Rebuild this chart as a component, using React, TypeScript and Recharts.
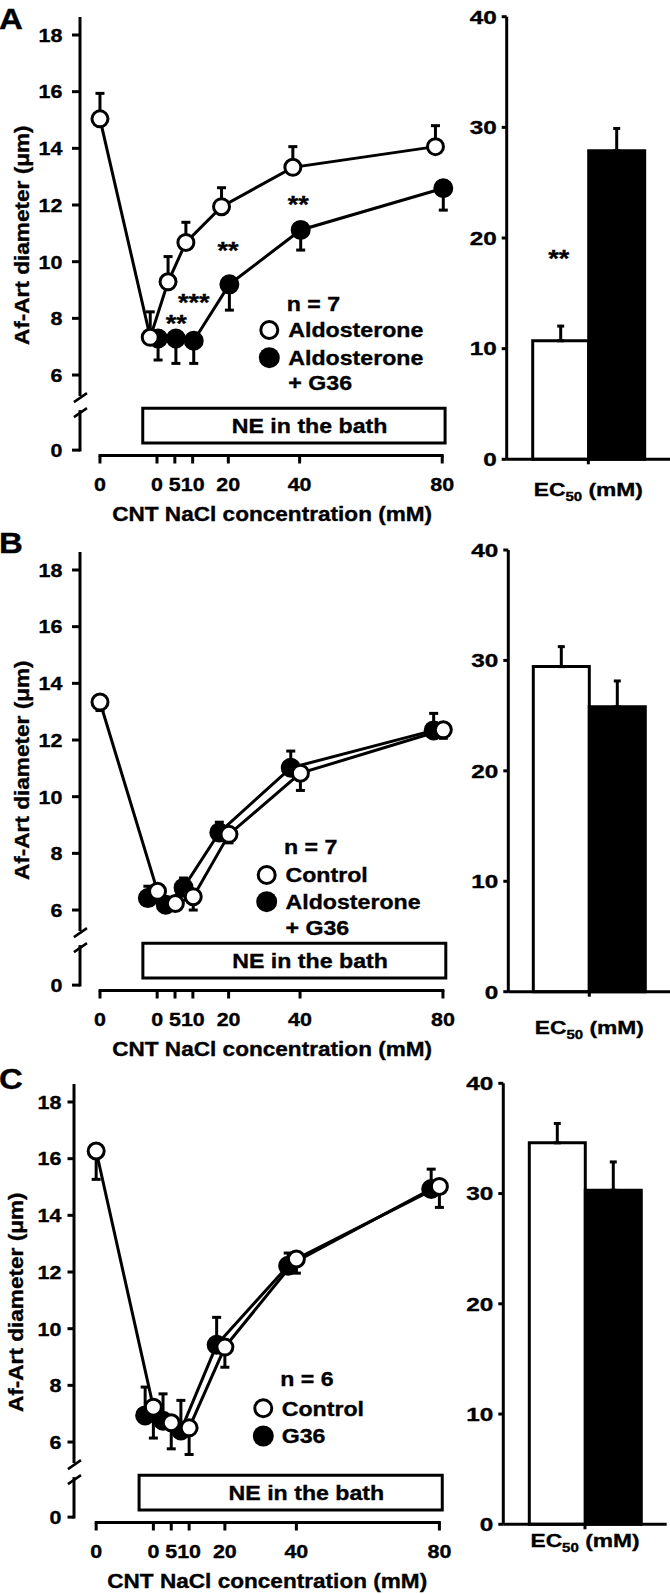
import React from 'react';
import {
  ComposedChart, Line, Scatter, XAxis, YAxis, ErrorBar, ReferenceLine, ReferenceArea,
  Legend, BarChart, Bar, LabelList, Label,
} from 'recharts';

const FONT = '"Liberation Sans", Arial, Helvetica, sans-serif';
const INK = '#000';
const SX_LINE = 1.13;
const SX_BAR = 1.28;
const TEXT_STROKE = 0.35;

// ---------- shared categories / ticks ----------
const CONC = [0, 5, 10, 20, 40, 80];
const CTRL_X = -16; // baseline before NE (labelled "0")
const X_TICKS = [CTRL_X, 0, 5, 10, 20, 40, 80];
const X_MAX = 80;
const Y_ZERO = 3.35; // broken axis: position of the "0" tick
const Y_TICKS = [Y_ZERO, 6, 8, 10, 12, 14, 16, 18];
const Y_TOP = 18.635;
const Y_BOTTOM = 3.16;
const Y_BREAK_UPPER = 5.256;
const Y_BREAK_LOWER = 4.762;
const BREAK_MARKS = [[5.044, 5.362], [4.515, 4.832]];
const NE_BOX_X = [-4, 80.8];
const NE_BOX_Y = [3.597, 4.83];
const NE_LABEL_X = 42.8;
const NE_LABEL = 'NE in the bath';
const BAR_TICKS = [0, 10, 20, 30, 40];
const BAR_CATEGORY = 'EC50';
const X_TITLE = 'CNT NaCl concentration (mM)';
const Y_TITLE = 'Af-Art diameter (\u03bcm)';

// ---------- Panel A ----------
const A_N = 'n = 7';
const A_OPEN_LABEL = 'Aldosterone';
const A_FILLED_LABEL = 'Aldosterone';
const A_FILLED_SUB = '+ G36';
const A_OPEN_CTRL = [15.04, 0.9];
const A_OPEN = [7.33, 9.29, 10.68, 11.94, 13.33, 14.06];
const A_OPEN_SEM = [0.9, 0.89, 0.71, 0.67, 0.73, 0.74];
const A_FILLED = [7.29, 7.29, 7.21, 9.2, 11.12, 12.59];
const A_FILLED_SEM = [0.76, 0.88, 0.8, 0.91, 0.71, 0.77];
const A_STAR_TEXT = ['**', '***', '**', '**'];
const A_STAR_X = [5.4, 10.3, 19.9, 39.6];
const A_STAR_Y = [8.0, 8.76, 10.59, 12.21];
const A_EC50 = [10.71, 27.88];
const A_EC50_SEM = [1.33, 2.02];
const A_EC50_STAR = '**';
const A_EC50_STAR_Y = 18.6;

// ---------- Panel B ----------
const B_N = 'n = 7';
const B_OPEN_LABEL = 'Control';
const B_FILLED_LABEL = 'Aldosterone';
const B_FILLED_SUB = '+ G36';
const B_OPEN_CTRL = [13.34, 0.3];
const B_OPEN = [6.66, 6.23, 6.47, 8.67, 10.83, 12.36];
const B_OPEN_SEM = [0.25, 0.25, 0.47, 0.3, 0.61, 0.3];
const B_FILLED = [6.42, 6.19, 6.79, 8.74, 11.02, 12.34];
const B_FILLED_SEM = [0.42, 0.25, 0.34, 0.36, 0.59, 0.6];
const B_EC50 = [29.44, 25.8];
const B_EC50_SEM = [1.81, 2.34];

// ---------- Panel C ----------
const C_N = 'n = 6';
const C_OPEN_LABEL = 'Control';
const C_FILLED_LABEL = 'G36';
const C_OPEN_CTRL = [16.27, 1.0];
const C_OPEN = [7.23, 6.68, 6.5, 9.35, 12.46, 15.02];
const C_OPEN_SEM = [1.09, 0.92, 0.94, 0.71, 0.5, 0.74];
const C_FILLED = [6.94, 6.75, 6.41, 9.43, 12.22, 14.93];
const C_FILLED_SEM = [1.0, 0.95, 1.06, 0.97, 0.45, 0.7];
const C_EC50 = [34.6, 30.3];
const C_EC50_SEM = [1.76, 2.57];

// ---------- layout ----------
const PANEL_H = 534;
const LINE_W = 470;
const PLOT_TOP = 17;
const PLOT_BOTTOM = 455.5;
const X_AXIS_H = 70;
const BAR_X_H = 60;

type Dir = 'up' | 'down';
type Panel = {
  letter: string; top: number; letterY: number;
  n: string; openLabel: string; filledLabel: string; filledSub?: string;
  openCtrl: number[]; open: number[]; openSem: number[]; openDir: Dir; openOffset: number;
  filled: number[]; filledSem: number[]; filledDir: Dir; filledOffset: number;
  starText: string[]; starX: number[]; starY: number[];
  ec: number[]; ecSem: number[]; ecStar?: string; ecStarY?: number;
  axisX: number; xMin: number; plotRight: number; yTickSize: number; yTickMargin: number;
  lg: { x: number; textX: number; nY: number; rows: number[]; subY?: number };
  barAxisX: number; barRight: number; barTop: number; barBottom: number; ecDy: number;
};

const PANELS: Panel[] = [
  {
    letter: 'A', top: 0, letterY: 28.5, n: A_N, openLabel: A_OPEN_LABEL, filledLabel: A_FILLED_LABEL, filledSub: A_FILLED_SUB,
    openCtrl: A_OPEN_CTRL, open: A_OPEN, openSem: A_OPEN_SEM, openDir: 'up', openOffset: -1.9,
    filled: A_FILLED, filledSem: A_FILLED_SEM, filledDir: 'down', filledOffset: 0.3,
    starText: A_STAR_TEXT, starX: A_STAR_X, starY: A_STAR_Y,
    ec: A_EC50, ecSem: A_EC50_SEM, ecStar: A_EC50_STAR, ecStarY: A_EC50_STAR_Y,
    axisX: 80, xMin: -21.6, plotRight: 443.3, yTickSize: 8, yTickMargin: 9.5,
    lg: { x: 269.3, textX: 288.3, nY: 303.3, rows: [330, 357.7], subY: 382.3 },
    barAxisX: 506.7, barRight: 670, barTop: 16.7, barBottom: 459.3, ecDy: 29.7,
  },
  {
    letter: 'B', top: 535, letterY: 18, n: B_N, openLabel: B_OPEN_LABEL, filledLabel: B_FILLED_LABEL, filledSub: B_FILLED_SUB,
    openCtrl: B_OPEN_CTRL, open: B_OPEN, openSem: B_OPEN_SEM, openDir: 'down', openOffset: 0.1,
    filled: B_FILLED, filledSem: B_FILLED_SEM, filledDir: 'up', filledOffset: -2.6,
    starText: [], starX: [], starY: [],
    ec: B_EC50, ecSem: B_EC50_SEM,
    axisX: 80, xMin: -21.6, plotRight: 443.3, yTickSize: 8, yTickMargin: 9.5,
    lg: { x: 266.7, textX: 285.5, nY: 311.7, rows: [340, 366.7], subY: 392.7 },
    barAxisX: 508.3, barRight: 670.3, barTop: 15, barBottom: 456.7, ecDy: 35,
  },
  {
    letter: 'C', top: 1067, letterY: 22, n: C_N, openLabel: C_OPEN_LABEL, filledLabel: C_FILLED_LABEL,
    openCtrl: C_OPEN_CTRL, open: C_OPEN, openSem: C_OPEN_SEM, openDir: 'down', openOffset: 0,
    filled: C_FILLED, filledSem: C_FILLED_SEM, filledDir: 'up', filledOffset: -2.3,
    starText: [], starX: [], starY: [],
    ec: C_EC50, ecSem: C_EC50_SEM,
    axisX: 74, xMin: -22.2, plotRight: 439.4, yTickSize: 6.5, yTickMargin: 6,
    lg: { x: 263.3, textX: 281.7, nY: 312, rows: [341.3, 369] },
    barAxisX: 503.3, barRight: 666.7, barTop: 16.3, barBottom: 457.3, ecDy: 16,
  },
];

function SText({ x, y, children, size, sx, anchor = 'start', dy = '0.36em' }: any) {
  return (
    <text x={x} y={y} dy={dy} textAnchor={anchor} fontFamily={FONT} fontWeight="bold" fontSize={size} fill={INK}
      stroke={INK} strokeWidth={TEXT_STROKE}
      transform={`translate(${x} 0) scale(${sx} 1) translate(${-x} 0)`}>
      {children}
    </text>
  );
}

function buildSeries(values: number[], sems: number[], dir: Dir, offset: number, ctrl?: number[]) {
  const err = (s: number) => (dir === 'up' ? [0, s] : [s, 0]);
  const pts = CONC.map((c, i) => ({ x: c + offset, y: values[i], err: err(sems[i]) }));
  if (ctrl) pts.unshift({ x: CTRL_X, y: ctrl[0], err: err(ctrl[1]) });
  return pts;
}

const xTick = (props: any) => {
  const { x, y, payload } = props;
  const label = payload.value === CTRL_X ? '0' : String(payload.value);
  return <SText x={x} y={y} anchor="middle" dy="0.71em" size={19} sx={SX_LINE}>{label}</SText>;
};

const yTick = (props: any) => {
  const { x, y, payload } = props;
  const label = Math.abs(payload.value - Y_ZERO) < 1e-9 ? '0' : String(payload.value);
  return <SText x={x} y={y} anchor="end" size={19} sx={SX_LINE}>{label}</SText>;
};

const barYTick = (props: any) => {
  const { x, y, payload } = props;
  return <SText x={x} y={y} anchor="end" size={19} sx={SX_BAR}>{String(payload.value)}</SText>;
};

const makeEcTick = (ecDy: number) => (props: any) => {
  const { x, y } = props;
  // y = axis + tickSize + tickMargin(2); place the label centre at axis + ecDy
  return (
    <g transform={`translate(${x} ${y - 7 + ecDy}) scale(${SX_BAR - 0.08} 1)`}>
      <text x={0} y={0} dy="0.36em" textAnchor="middle" fontFamily={FONT} fontWeight="bold" fontSize={19} fill={INK}
        stroke={INK} strokeWidth={TEXT_STROKE}>
        EC<tspan fontSize={12.5} dy={5}>50</tspan><tspan dy={-5}> (mM)</tspan>
      </text>
    </g>
  );
};

function LinePanel({ p }: { p: Panel }) {
  const open = buildSeries(p.open, p.openSem, p.openDir, p.openOffset, p.openCtrl);
  const filled = buildSeries(p.filled, p.filledSem, p.filledDir, p.filledOffset);
  const stars = p.starText.map((t, i) => ({ x: p.starX[i], y: p.starY[i], t }));
  const xMin = p.xMin;
  const neContent = (lp: any) => {
    const vb = lp.viewBox;
    if (!vb) return null;
    const cx = vb.x + (vb.width * (NE_LABEL_X - NE_BOX_X[0])) / (NE_BOX_X[1] - NE_BOX_X[0]);
    return <SText x={cx} y={vb.y + vb.height / 2} anchor="middle" size={20.5} sx={SX_LINE}>{NE_LABEL}</SText>;
  };
  const xTitle = (lp: any) => {
    const vb = lp.viewBox;
    if (!vb) return null;
    return <SText x={vb.x + vb.width / 2 + 10.5} y={vb.y + 58} anchor="middle" size={20} sx={SX_LINE}>{X_TITLE}</SText>;
  };
  const yTitle = (lp: any) => {
    const vb = lp.viewBox;
    if (!vb) return null;
    const cx = vb.x + vb.width - 58.3;
    const cy = vb.y + vb.height / 2 - 1;
    return (
      <g transform={`translate(${cx} ${cy}) rotate(-90) scale(${SX_LINE} 1)`}>
        <text x={0} y={0} dy="0.36em" textAnchor="middle" fontFamily={FONT} fontWeight="bold" fontSize={20} fill={INK}
          stroke={INK} strokeWidth={TEXT_STROKE}>{Y_TITLE}</text>
      </g>
    );
  };
  const legend = () => (
    <svg width={LINE_W} height={PANEL_H} style={{ position: 'absolute', left: 0, top: 0, overflow: 'visible' }}>
      <SText x={p.lg.textX - 1.5} y={p.lg.nY} size={20.5} sx={SX_LINE}>{p.n}</SText>
      <circle cx={p.lg.x} cy={p.lg.rows[0]} r={8.5} fill="#fff" stroke={INK} strokeWidth={3} />
      <SText x={p.lg.textX} y={p.lg.rows[0]} size={20.5} sx={SX_LINE}>{p.openLabel}</SText>
      <circle cx={p.lg.x} cy={p.lg.rows[1]} r={10.5} fill={INK} />
      <SText x={p.lg.textX} y={p.lg.rows[1]} size={20.5} sx={SX_LINE}>{p.filledLabel}</SText>
      {p.filledSub && p.lg.subY ? (
        <SText x={p.lg.textX} y={p.lg.subY} size={20.5} sx={SX_LINE}>{p.filledSub}</SText>
      ) : null}
    </svg>
  );
  const axisLine = { stroke: INK, strokeWidth: 3 };
  return (
    <ComposedChart
      width={LINE_W}
      height={PANEL_H}
      margin={{ top: PLOT_TOP, right: LINE_W - p.plotRight, bottom: PANEL_H - PLOT_BOTTOM - X_AXIS_H, left: 0 }}
    >
      <XAxis type="number" dataKey="x" domain={[xMin, X_MAX]} ticks={X_TICKS} interval={0} scale="linear"
        axisLine={false} tickLine={axisLine} tickSize={8} tickMargin={14.5} height={X_AXIS_H} tick={xTick}
        label={<Label content={xTitle} />} />
      <YAxis type="number" domain={[Y_BOTTOM, Y_TOP]} ticks={Y_TICKS} interval={0} scale="linear" width={p.axisX}
        axisLine={false} tickLine={axisLine} tickSize={p.yTickSize} tickMargin={p.yTickMargin} tick={yTick}
        label={<Label content={yTitle} />} />
      <ReferenceArea x1={NE_BOX_X[0]} x2={NE_BOX_X[1]} y1={NE_BOX_Y[0]} y2={NE_BOX_Y[1]} ifOverflow="visible"
        fill="#fff" fillOpacity={1} stroke={INK} strokeWidth={3} label={<Label content={neContent} />} />
      <ReferenceLine ifOverflow="visible" stroke={INK} strokeWidth={3}
        segment={[{ x: CTRL_X - 0.4, y: Y_BOTTOM }, { x: X_MAX + 0.4, y: Y_BOTTOM }]} />
      <ReferenceLine ifOverflow="visible" stroke={INK} strokeWidth={3}
        segment={[{ x: xMin, y: Y_TOP }, { x: xMin, y: Y_BREAK_UPPER }]} />
      <ReferenceLine ifOverflow="visible" stroke={INK} strokeWidth={3}
        segment={[{ x: xMin, y: Y_BREAK_LOWER }, { x: xMin, y: Y_ZERO - 0.05 }]} />
      {BREAK_MARKS.map((m, i) => (
        <ReferenceLine key={`brk${i}`} ifOverflow="visible" stroke={INK} strokeWidth={2.5}
          segment={[{ x: xMin - 1.7, y: m[0] }, { x: xMin + 1.95, y: m[1] }]} />
      ))}
      <Line data={filled} dataKey="y" type="linear" stroke={INK} strokeWidth={3} isAnimationActive={false}
        dot={{ r: 8.5, fill: INK, stroke: INK, strokeWidth: 3 }} activeDot={false}>
        <ErrorBar dataKey="err" direction="y" width={4.5} stroke={INK} strokeWidth={3} isAnimationActive={false} />
      </Line>
      <Line data={open} dataKey="y" type="linear" stroke={INK} strokeWidth={3} isAnimationActive={false}
        dot={{ r: 8, fill: '#fff', stroke: INK, strokeWidth: 3 }} activeDot={false}>
        <ErrorBar dataKey="err" direction="y" width={4.5} stroke={INK} strokeWidth={3} isAnimationActive={false} />
      </Line>
      {stars.length ? (
        <Scatter data={stars} dataKey="y" isAnimationActive={false}
          shape={(sp: any) => (
            <SText x={sp.cx} y={sp.cy} anchor="middle" dy="0.58em" size={24} sx={SX_LINE}>{sp.payload.t}</SText>
          )} />
      ) : null}
      <Legend layout="vertical" align="center" verticalAlign="middle" content={legend}
        wrapperStyle={{ left: 0, top: 0, width: LINE_W, height: PANEL_H, pointerEvents: 'none' }} />
    </ComposedChart>
  );
}

function BarPanel({ p }: { p: Panel }) {
  const rows = [{
    name: BAR_CATEGORY, open: p.ec[0], filled: p.ec[1],
    openErr: [0, p.ecSem[0]], filledErr: [0, p.ecSem[1]],
  }];
  const W = p.barRight - 450;
  const axis = { stroke: INK, strokeWidth: 3 };
  const starContent = (lp: any) => {
    if (!p.ecStar || p.ecStarY == null) return null;
    const { x, y, width, height, value } = lp;
    const v = Array.isArray(value) ? value[1] : value;
    const pxPerUnit = height / v;
    const cy = y + height - p.ecStarY * pxPerUnit;
    return <SText x={x + width / 2 - 2} y={cy} anchor="middle" dy="0.58em" size={24} sx={SX_LINE}>{p.ecStar}</SText>;
  };
  return (
    <BarChart width={W} height={PANEL_H} data={rows} barGap={0} barSize={56}
      margin={{ top: p.barTop, right: 0, bottom: PANEL_H - p.barBottom - BAR_X_H, left: 0 }}>
      <XAxis dataKey="name" type="category" axisLine={axis} tickLine={axis} tickSize={5} height={BAR_X_H}
        tick={makeEcTick(p.ecDy)} interval={0} />
      <YAxis type="number" domain={[0, 40]} ticks={BAR_TICKS} interval={0} width={p.barAxisX - 450}
        axisLine={axis} tickLine={axis} tickSize={5} tickMargin={5} tick={barYTick} />
      <Bar dataKey="open" fill="#fff" stroke={INK} strokeWidth={3} isAnimationActive={false}>
        <ErrorBar dataKey="openErr" direction="y" width={3.5} stroke={INK} strokeWidth={3} isAnimationActive={false} />
        {p.ecStar ? <LabelList dataKey="open" content={starContent} /> : null}
      </Bar>
      <Bar dataKey="filled" fill={INK} stroke={INK} strokeWidth={3} isAnimationActive={false}>
        <ErrorBar dataKey="filledErr" direction="y" width={3.5} stroke={INK} strokeWidth={3} isAnimationActive={false} />
      </Bar>
    </BarChart>
  );
}

export default function App() {
  return (
    <div style={{ position: 'absolute', left: 0, top: 0, width: 670, height: 1594, background: '#fff', overflow: 'hidden' }}>
      {PANELS.map((p) => (
        <React.Fragment key={p.letter}>
          <div style={{ position: 'absolute', left: 0, top: p.top }}>
            <LinePanel p={p} />
          </div>
          <div style={{ position: 'absolute', left: 450, top: p.top }}>
            <BarPanel p={p} />
          </div>
          <svg width={40} height={40} style={{ position: 'absolute', left: 0, top: p.top + p.letterY - 34 }}>
            <SText x={-1} y={34} dy={0} size={30} sx={1.1}>{p.letter}</SText>
          </svg>
        </React.Fragment>
      ))}
    </div>
  );
}
